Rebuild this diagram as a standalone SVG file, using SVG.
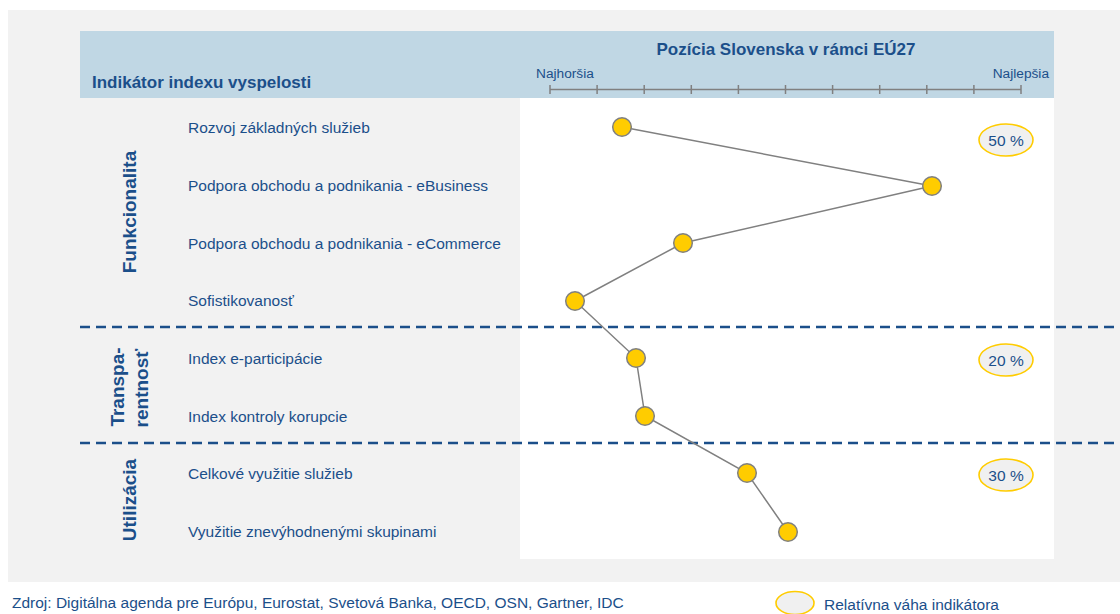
<svg xmlns="http://www.w3.org/2000/svg" width="1120" height="614" viewBox="0 0 1120 614">
<style>
text{font-family:"Liberation Sans",Arial,sans-serif;fill:#1b4f8a}
.lbl{font-size:15.5px}
.hdr{font-size:17px;font-weight:bold}
.grp{font-size:19px;font-weight:bold}
.ax{font-size:13.7px}
.pt{fill:#ffcc00;stroke:#808080;stroke-width:1.5}
.wt{fill:#f0f0f0;stroke:#ffcc00;stroke-width:1.6}
.dash{stroke:#1b4f8a;stroke-width:2.5;stroke-dasharray:10 6;fill:none}
.tick{stroke:#808080;stroke-width:1.5}
</style>
<rect x="0" y="0" width="1120" height="614" fill="#ffffff"/>
<rect x="8" y="10" width="1112" height="572" fill="#f2f2f2"/>
<rect x="80" y="31" width="974" height="67" fill="#c0d7e4"/>
<rect x="520" y="98" width="534" height="461" fill="#ffffff"/>
<g id="header">
<text class="hdr" x="92" y="88">Indikátor indexu vyspelosti</text>
<text class="hdr" x="786" y="55" text-anchor="middle">Pozícia Slovenska v rámci EÚ27</text>
<text class="ax" x="536" y="78">Najhoršia</text>
<text class="ax" x="1049" y="78" text-anchor="end">Najlepšia</text>
</g>
<g id="axis">
<line class="tick" x1="550" y1="89.5" x2="1021" y2="89.5"/>
<path class="tick" d="M550 85v9M597.1 85v9M644.2 85v9M691.3 85v9M738.4 85v9M785.5 85v9M832.6 85v9M879.7 85v9M926.8 85v9M973.9 85v9M1021 85v9"/>
</g>
<g id="separators">
<line class="dash" x1="80" y1="327" x2="1120" y2="327"/>
<line class="dash" x1="80" y1="443" x2="1120" y2="443"/>
</g>
<g id="groups">
<text class="grp" transform="translate(136 212) rotate(-90)" text-anchor="middle">Funkcionalita</text>
<text class="grp" transform="translate(124 387) rotate(-90)" text-anchor="middle">Transpa-</text>
<text class="grp" transform="translate(148 388) rotate(-90)" text-anchor="middle">rentnosť</text>
<text class="grp" transform="translate(136 500) rotate(-90)" text-anchor="middle">Utilizácia</text>
</g>
<g id="rows">
<text class="lbl" x="188" y="133">Rozvoj základných služieb</text>
<text class="lbl" x="188" y="191">Podpora obchodu a podnikania - eBusiness</text>
<text class="lbl" x="188" y="249">Podpora obchodu a podnikania - eCommerce</text>
<text class="lbl" x="188" y="306">Sofistikovanosť</text>
<text class="lbl" x="188" y="364">Index e-participácie</text>
<text class="lbl" x="188" y="422">Index kontroly korupcie</text>
<text class="lbl" x="188" y="479">Celkové využitie služieb</text>
<text class="lbl" x="188" y="537">Využitie znevýhodnenými skupinami</text>
</g>
<g id="connectors">
<polyline points="622,127 932,186 683,243 575,301 636,358 645,416 747,473 788,532" fill="none" stroke="#808080" stroke-width="1.5"/>
</g>
<g id="points">
<circle class="pt" cx="622" cy="127" r="9.3"/>
<circle class="pt" cx="932" cy="186" r="9.3"/>
<circle class="pt" cx="683" cy="243" r="9.3"/>
<circle class="pt" cx="575" cy="301" r="9.3"/>
<circle class="pt" cx="636" cy="358" r="9.3"/>
<circle class="pt" cx="645" cy="416" r="9.3"/>
<circle class="pt" cx="747" cy="473" r="9.3"/>
<circle class="pt" cx="788" cy="532" r="9.3"/>
</g>
<g id="weights">
<ellipse class="wt" cx="1006" cy="140" rx="27" ry="16"/>
<text class="lbl" x="1006" y="145.5" text-anchor="middle">50 %</text>
<ellipse class="wt" cx="1006" cy="360" rx="27" ry="16"/>
<text class="lbl" x="1006" y="365.5" text-anchor="middle">20 %</text>
<ellipse class="wt" cx="1006" cy="475" rx="27" ry="16"/>
<text class="lbl" x="1006" y="480.5" text-anchor="middle">30 %</text>
</g>
<g id="footer">
<text class="lbl" x="12" y="608">Zdroj: Digitálna agenda pre Európu, Eurostat, Svetová Banka, OECD, OSN, Gartner, IDC</text>
<ellipse class="wt" cx="795" cy="603" rx="19" ry="11.5"/>
<text class="lbl" x="824" y="610">Relatívna váha indikátora</text>
</g>
</svg>
